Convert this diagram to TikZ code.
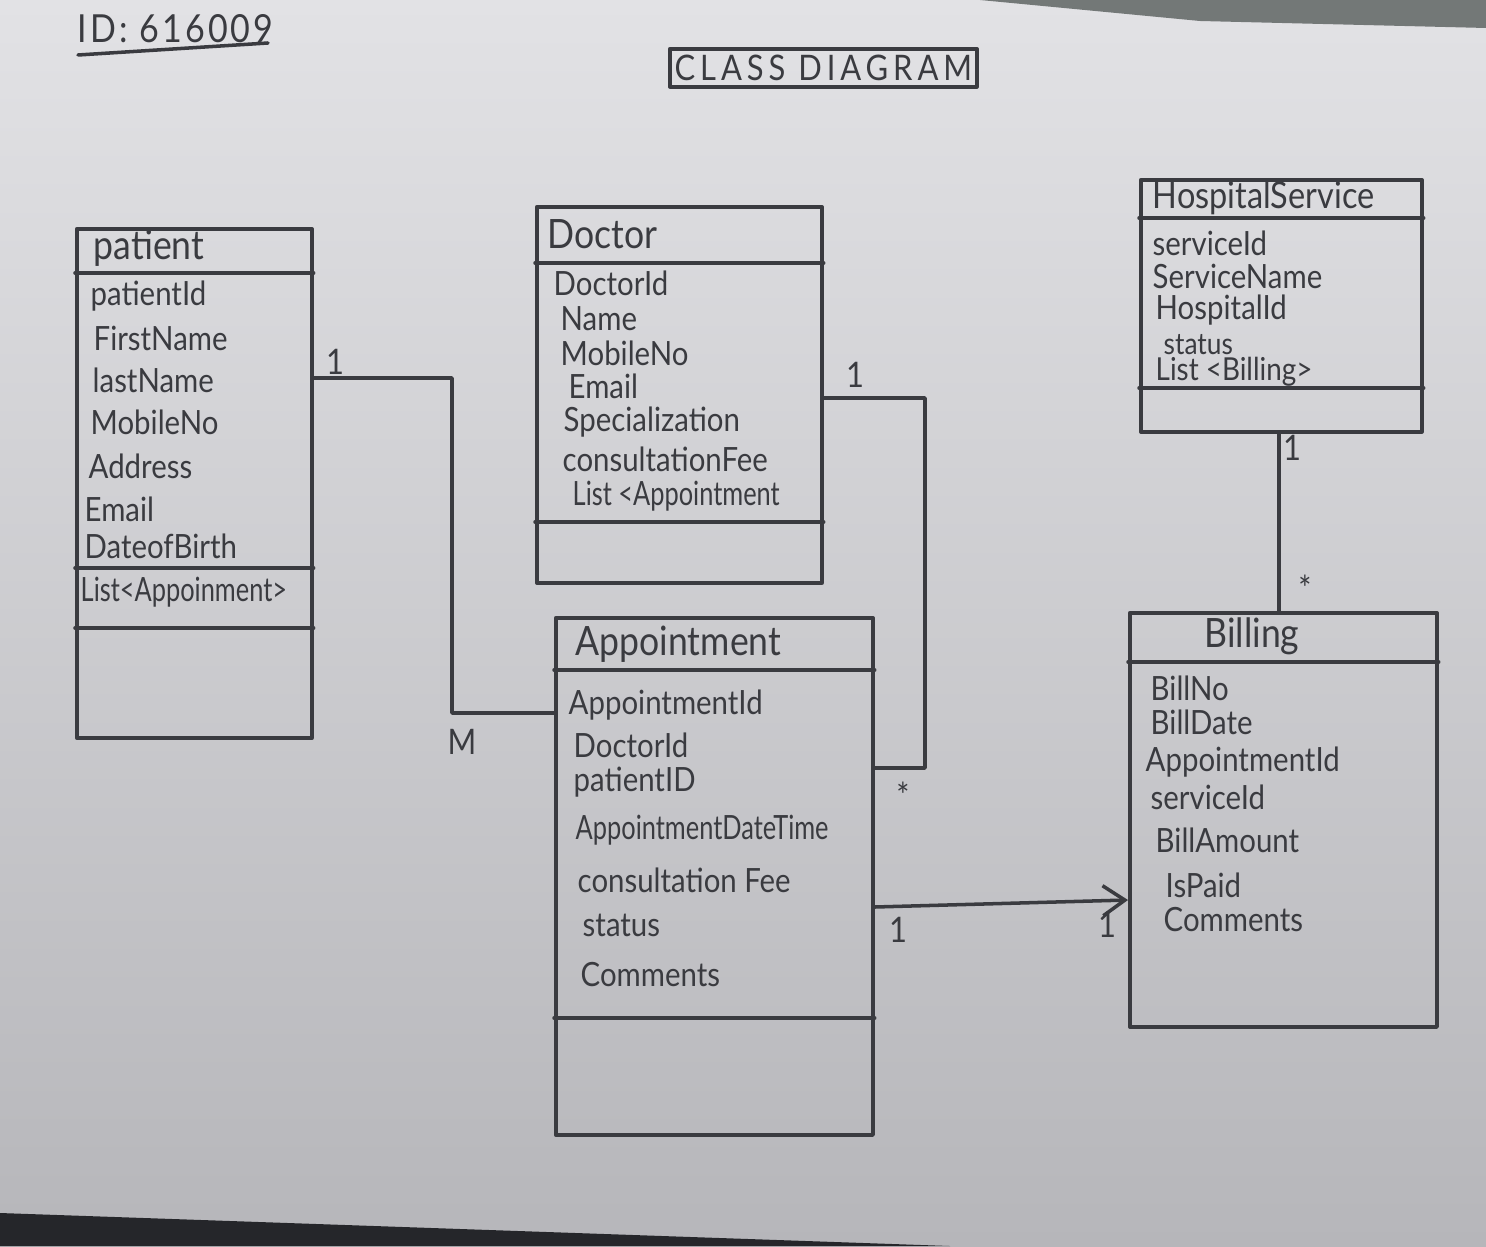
\documentclass[tikz,border=0pt]{standalone}
\usepackage{fontspec}
\setmainfont{Lato}[FakeStretch=0.88]
\usetikzlibrary{arrows.meta,calc}
\definecolor{ink}{HTML}{3A3B40}
\definecolor{paperTop}{HTML}{E2E2E5}
\definecolor{paperBot}{HTML}{B6B6BA}
\definecolor{edgeTop}{HTML}{737877}
\definecolor{edgeBot}{HTML}{25262A}
\begin{document}
\begin{tikzpicture}[x=0.01cm,y=-0.01cm,
  line/.style={draw=ink, line width=1pt, line join=round, line cap=round},
  cls/.style={line, rectangle, inner sep=0pt, anchor=north west},
  attr/.style={anchor=west, inner sep=0pt, text=ink, font=\fontsize{9.5}{11}\selectfont},
  narrow/.style={font=\fontsize{9.5}{11}\selectfont\addfontfeature{FakeStretch=0.76}},
  ctitle/.style={anchor=west, inner sep=0pt, text=ink, font=\fontsize{11.5}{13}\selectfont},
  mult/.style={inner sep=0pt, text=ink, font=\fontsize{10}{12}\selectfont},
  conn/.style={line}]

% sheet of paper
\useasboundingbox (0,0) rectangle (1486,1246);
\shade[top color=paperTop, bottom color=paperBot] (0,0) rectangle (1486,1246);
\fill[edgeTop] (980,0) -- (1486,0) -- (1486,28) -- (1200,21) -- cycle;
\fill[edgeBot] (0,1213) -- (950,1246) -- (0,1246) -- cycle;

% heading
\node[anchor=west, inner sep=0pt, text=ink, font=\fontsize{11}{13}\selectfont\addfontfeature{LetterSpace=8}] (idlbl) at (77,29) {ID: 616009};
\draw[line] (78,55) -- (268,43);
\node[line, inner sep=0pt, minimum width=3.07cm, minimum height=0.38cm, anchor=north west,
      text=ink, font=\fontsize{10}{12}\selectfont\addfontfeature{LetterSpace=14}] (title) at (668,47) {CLASS DIAGRAM};

% ---- patient ----
\node[cls, minimum width=2.35cm, minimum height=5.09cm] (patient) at (75,227) {};
\draw[line] (patient.west |- 0,273) -- (patient.east |- 0,273);
\draw[line] (patient.west |- 0,568) -- (patient.east |- 0,568);
\draw[line] (patient.west |- 0,628) -- (patient.east |- 0,628);
\node[ctitle] (pt) at (93,248) {patient};
\node[attr] (pa1) at (90,296) {patientId};
\node[attr] (pa2) at (93,338) {FirstName};
\node[attr] (pa3) at (92,380) {lastName};
\node[attr] (pa4) at (90,422) {MobileNo};
\node[attr] (pa5) at (88,466) {Address};
\node[attr] (pa6) at (84,509) {Email};
\node[attr] (pa7) at (84,546) {DateofBirth};
\node[attr, narrow] (pa8) at (80,592) {List<Appoinment>};

% ---- Doctor ----
\node[cls, minimum width=2.85cm, minimum height=3.76cm] (doctor) at (535,205) {};
\draw[line] (doctor.west |- 0,263) -- (doctor.east |- 0,263);
\draw[line] (doctor.west |- 0,522) -- (doctor.east |- 0,522);
\node[ctitle] (dt) at (547,234) {Doctor};
\node[attr] (da1) at (553,283) {DoctorId};
\node[attr] (da2) at (560,319) {Name};
\node[attr] (da3) at (560,353) {MobileNo};
\node[attr] (da4) at (568,386) {Email};
\node[attr] (da5) at (563,422) {Specialization};
\node[attr] (da6) at (562,459) {consultationFee};
\node[attr, narrow] (da7) at (572,496) {List <Appointment};

% ---- Appointment ----
\node[cls, minimum width=3.17cm, minimum height=5.17cm] (appt) at (554,616) {};
\draw[line] (appt.west |- 0,670) -- (appt.east |- 0,670);
\draw[line] (appt.west |- 0,1018) -- (appt.east |- 0,1018);
\node[ctitle] (at) at (575,644) {Appointment};
\node[attr] (aa1) at (568,705) {AppointmentId};
\node[attr] (aa2) at (573,745) {DoctorId};
\node[attr] (aa3) at (573,782) {patientID};
\node[attr, narrow] (aa4) at (575,830) {AppointmentDateTime};
\node[attr] (aa5) at (577,880) {consultation Fee};
\node[attr] (aa6) at (582,925) {status};
\node[attr] (aa7) at (580,975) {Comments};

% ---- HospitalService ----
\node[cls, minimum width=2.81cm, minimum height=2.52cm] (hs) at (1139,178) {};
\draw[line] (hs.west |- 0,218) -- (hs.east |- 0,218);
\draw[line] (hs.west |- 0,388) -- (hs.east |- 0,388);
\node[ctitle, font=\fontsize{10.5}{12}\selectfont] (ht) at (1152,198) {HospitalService};
\node[attr] (ha1) at (1152,243) {serviceId};
\node[attr] (ha2) at (1152,276) {ServiceName};
\node[attr] (ha3) at (1155,310) {HospitalId};
\node[attr, font=\fontsize{8.5}{10}\selectfont] (ha4) at (1163,345) {status};
\node[attr, font=\fontsize{9}{10}\selectfont] (ha5) at (1155,372) {List <Billing>};

% ---- Billing ----
\node[cls, minimum width=3.07cm, minimum height=4.14cm] (billing) at (1128,611) {};
\draw[line] (billing.west |- 0,662) -- (billing.east |- 0,662);
\node[inner sep=0pt, text=ink, font=\fontsize{11.5}{13}\selectfont] (bt) at (1252,636) {Billing};
\node[attr] (ba1) at (1150,688) {BillNo};
\node[attr] (ba2) at (1150,722) {BillDate};
\node[attr] (ba3) at (1145,762) {AppointmentId};
\node[attr] (ba4) at (1150,797) {serviceId};
\node[attr] (ba5) at (1155,840) {BillAmount};
\node[attr] (ba6) at (1165,885) {IsPaid};
\node[attr] (ba7) at (1163,920) {Comments};

% ---- associations ----
\draw[conn] (patient.east |- 0,378) -| (452,713) -- (appt.west |- 0,713);
\node[mult] (m1) at (335,362) {1};
\node[mult] (m2) at (462,742) {M};

\draw[conn] (doctor.east |- 0,398) -| (925,768) -- (appt.east |- 0,768);
\node[mult] (m3) at (855,375) {1};
\node[mult] (m4) at (903,795) {*};

\draw[conn, -{Straight Barb[length=2.2mm, width=3mm]}] (appt.east |- 0,907) -- (billing.west |- 0,900);
\node[mult] (m5) at (898,930) {1};
\node[mult] (m6) at (1107,925) {1};

\draw[conn] (hs.south -| 1279,0) -- (billing.north -| 1279,0);
\node[mult] (m7) at (1292,448) {1};
\node[mult] (m8) at (1305,588) {*};

\end{tikzpicture}
\end{document}
